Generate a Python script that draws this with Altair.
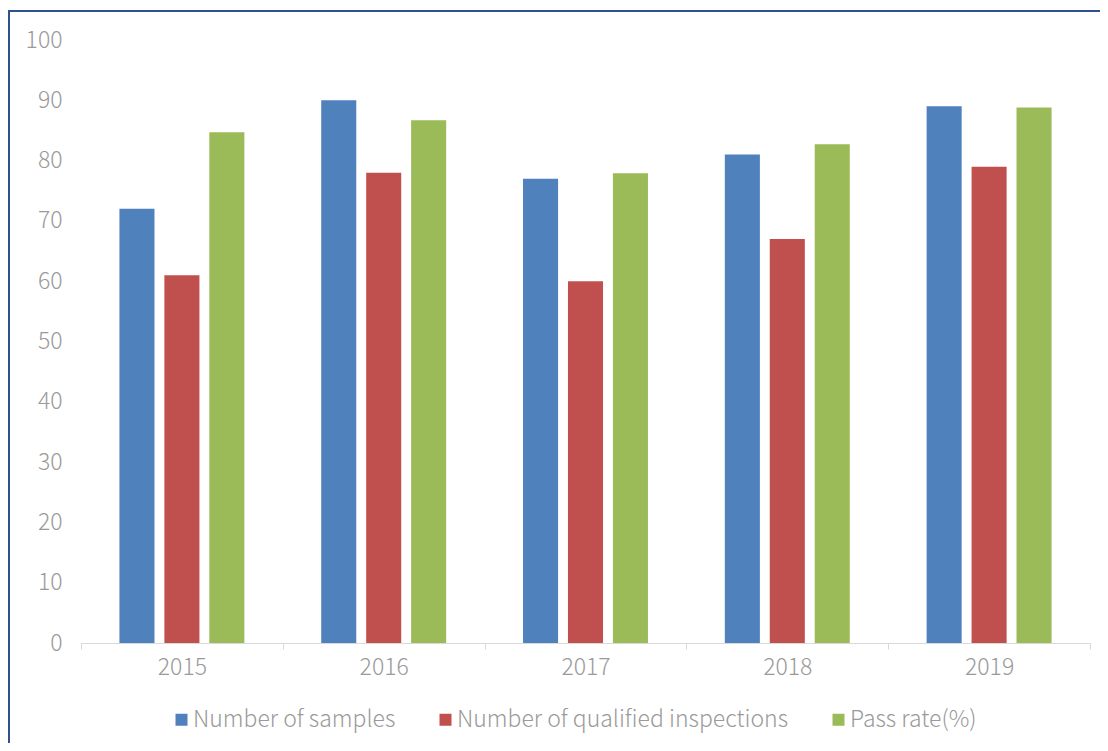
import altair as alt
import pandas as pd

years = ["2015", "2016", "2017", "2018", "2019"]
series = ["Number of samples", "Number of qualified inspections", "Pass rate(%)"]
samples = [72, 90, 77, 81, 89]
qualified = [61, 78, 60, 67, 79]
pass_rate = [84.7, 86.7, 77.9, 82.7, 88.8]
colors = ["#4F81BD", "#C0504D", "#9BBB59"]

rows = []
for i, y in enumerate(years):
    for s, vals in zip(series, [samples, qualified, pass_rate]):
        rows.append({"year": y, "series": s, "value": vals[i]})
df = pd.DataFrame(rows)

FONT = "Noto Sans CJK SC"
GRAY = "#9a9a9a"
FW = 300
FS = 23

bars = alt.Chart(df).mark_bar().encode(
    x=alt.X("year:N", sort=years, title=None,
            scale=alt.Scale(paddingInner=0, paddingOuter=0),
            axis=alt.Axis(labelAngle=0, tickBand="extent", domainColor="#d9d9d9",
                          tickColor="#d9d9d9", tickSize=6, labelPadding=7,
                          labelFontSize=FS, labelColor=GRAY, labelFont=FONT,
                          labelFontWeight=FW, grid=False)),
    xOffset=alt.XOffset("series:N", sort=series,
                        scale=alt.Scale(paddingInner=0.22, paddingOuter=0.855)),
    y=alt.Y("value:Q", title=None,
            scale=alt.Scale(domain=[0, 100], nice=False),
            axis=alt.Axis(values=list(range(0, 101, 10)), domain=False, ticks=False,
                          grid=False, labelPadding=19, labelFontSize=FS,
                          labelColor=GRAY, labelFont=FONT, labelFontWeight=FW)),
    color=alt.Color("series:N", sort=series,
                    scale=alt.Scale(domain=series, range=colors),
                    legend=alt.Legend(title=None, orient="none", direction="horizontal",
                                      columns=3, legendX=89, legendY=668,
                                      symbolType="square", symbolSize=144,
                                      symbolStrokeWidth=0, labelFontSize=FS,
                                      labelColor=GRAY, labelFont=FONT,
                                      labelFontWeight=FW,
                                      labelOffset=0, columnPadding=38,
                                      labelLimit=500)),
)

border = alt.Chart(pd.DataFrame({"a": [0]})).mark_rect(
    filled=False, stroke="#2F528F", strokeWidth=2
).encode(
    x=alt.value(-72), x2=alt.value(1060), y=alt.value(-29), y2=alt.value(740)
)

chart = alt.layer(bars, border).properties(
    width=1009, height=603,
    padding={"left": 73, "top": 32, "right": 10, "bottom": 100},
    autosize=alt.AutoSizeParams(type="none"),
).configure_view(stroke=None)

chart.save("out.html", embed_options={"renderer": "svg", "actions": False})
